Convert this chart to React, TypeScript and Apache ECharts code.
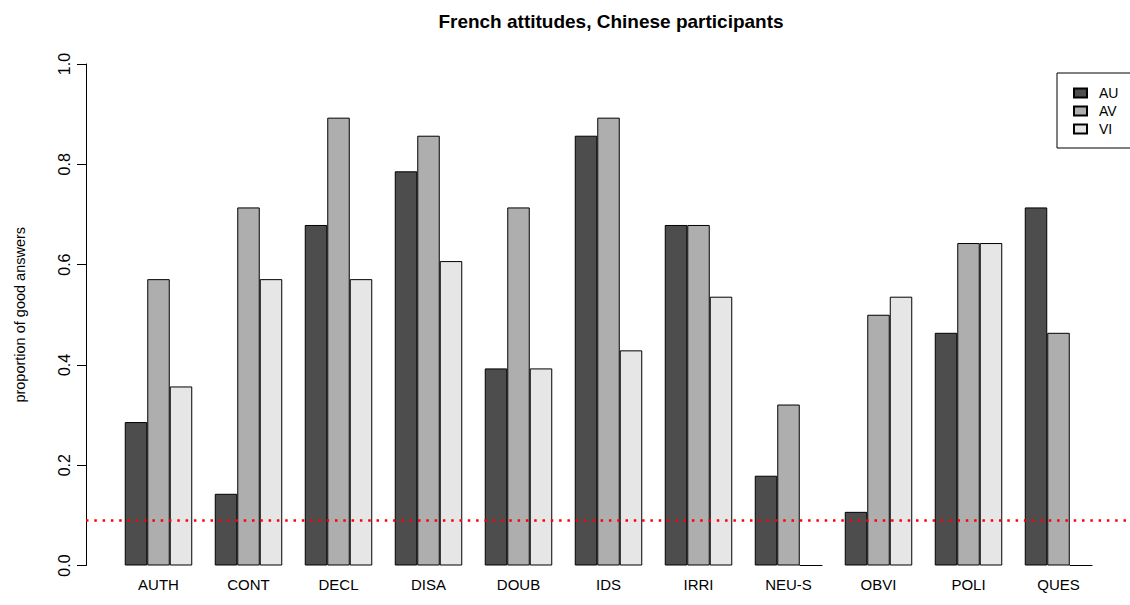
import React, { useEffect, useRef } from "react";
import * as echarts from "echarts";

const categories = ["AUTH", "CONT", "DECL", "DISA", "DOUB", "IDS", "IRRI", "NEU-S", "OBVI", "POLI", "QUES"];
const seriesNames = ["AU", "AV", "VI"];
const valuesAU = [0.286, 0.143, 0.679, 0.786, 0.393, 0.857, 0.679, 0.179, 0.107, 0.464, 0.714];
const valuesAV = [0.571, 0.714, 0.893, 0.857, 0.714, 0.893, 0.679, 0.321, 0.5, 0.643, 0.464];
const valuesVI = [0.357, 0.571, 0.571, 0.607, 0.393, 0.429, 0.536, 0, 0.536, 0.643, 0];
const chanceLevel = 0.09;
const yTicks = [0, 0.2, 0.4, 0.6, 0.8, 1.0];

const colors = ["#4d4d4d", "#aeaeae", "#e6e6e6"];
const FONT = "'Liberation Sans', Arial, Helvetica, sans-serif";

export default function App() {
  const ref = useRef<HTMLDivElement>(null);
  useEffect(() => {
    if (!ref.current) return;
    const chart = echarts.init(ref.current, undefined, { renderer: "svg" });
    const allValues = [valuesAU, valuesAV, valuesVI];
    const series: any[] = allValues.map((vals, i) => ({
      name: seriesNames[i],
      type: "bar",
      data: vals,
      barGap: "0%",
      barCategoryGap: "25%",
      itemStyle: { color: colors[i], borderColor: "#000", borderWidth: 1 },
      emphasis: { disabled: true },
      silent: true,
    }));
    series[0].markLine = {
      silent: true,
      symbol: ["none", "none"],
      label: { show: false },
      lineStyle: { color: "#ff0000", type: [2.5, 5.8], width: 2.5 },
      data: [[{ x: 86, yAxis: chanceLevel }, { x: 1130, yAxis: chanceLevel }]],
    };
    chart.setOption({
      animation: false,
      backgroundColor: "#fff",
      textStyle: { fontFamily: FONT },
      title: {
        text: "French attitudes, Chinese participants",
        left: 606,
        textAlign: "center",
        top: 7,
        textStyle: { fontFamily: FONT, fontSize: 19, fontWeight: "bold", color: "#000" },
      },
      legend: {
        orient: "vertical",
        left: 1057,
        top: 73,
        data: seriesNames,
        borderColor: "#000",
        borderWidth: 1,
        borderRadius: 0,
        padding: [13, 14, 12, 16],
        itemGap: 4,
        itemWidth: 13,
        itemHeight: 9,
        icon: "rect",
        selectedMode: false,
        textStyle: { fontFamily: FONT, fontSize: 14, color: "#000", padding: [0, 0, 0, 7] },
      },
      grid: { left: 113.5, right: 26.5, top: 64, bottom: 39.5, containLabel: false },
      xAxis: {
        type: "category",
        data: categories,
        axisLine: { show: false },
        axisTick: { show: false },
        axisLabel: { color: "#000", fontSize: 15, fontFamily: FONT, margin: 11, interval: 0 },
        splitLine: { show: false },
      },
      yAxis: {
        type: "value",
        min: 0,
        max: 1,
        interval: 0.2,
        offset: 27.5,
        name: "proportion of good answers",
        nameLocation: "middle",
        nameGap: 59,
        nameTextStyle: { color: "#000", fontSize: 14.5, fontFamily: FONT },
        axisLine: { show: true, lineStyle: { color: "#000", width: 1 } },
        axisTick: { show: true, length: 9, lineStyle: { color: "#000" } },
        axisLabel: {
          color: "#000",
          fontSize: 16,
          fontFamily: FONT,
          rotate: 90,
          margin: 14,
          formatter: (v: number) => (yTicks.includes(Math.round(v * 10) / 10) ? v.toFixed(1) : ""),
        },
        splitLine: { show: false },
      },
      series,
    });
    return () => chart.dispose();
  }, []);
  return <div ref={ref} style={{ position: "fixed", left: 0, top: 0, width: 1130, height: 605 }} />;
}
